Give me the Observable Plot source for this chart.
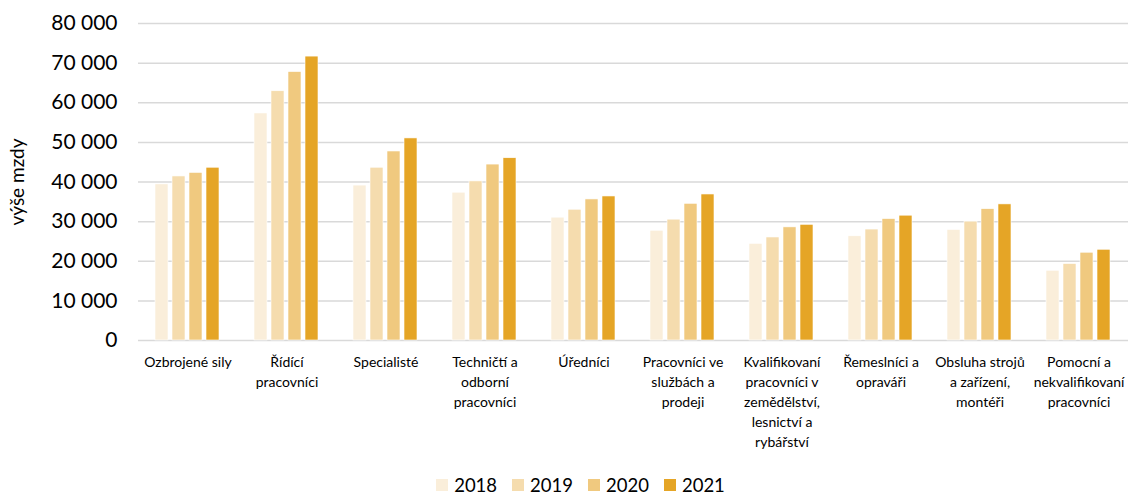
<!DOCTYPE html>
<html>
<head>
<meta charset="utf-8">
<script src="https://cdn.jsdelivr.net/npm/d3@7"></script>
<script src="https://cdn.jsdelivr.net/npm/@observablehq/plot@0.6"></script>
<style>
  html, body { margin: 0; padding: 0; background: #fff; }
  #chart { width: 1134px; height: 497px; overflow: hidden; font-family: Lato, sans-serif; }
  #legend { display: flex; justify-content: center; align-items: center; height: 46px; padding-left: 42px; box-sizing: border-box; }
  .lg-swatches-wrap { justify-content: center; margin: 0 !important; }
  .lg-swatch { margin-right: 15px !important; }
  .lg-swatch svg { margin-right: 6px !important; }
</style>
</head>
<body>
<div id="chart"></div>
<script>
const categories = [
  "Ozbrojené sily",
  "Řídící\npracovníci",
  "Specialisté",
  "Techničtí a\nodborní\npracovníci",
  "Úředníci",
  "Pracovníci ve\nslužbách a\nprodeji",
  "Kvalifikovaní\npracovníci v\nzemědělství,\nlesnictví a\nrybářství",
  "Řemeslníci a\nopraváři",
  "Obsluha strojů\na zařízení,\nmontéři",
  "Pomocní a\nnekvalifikovaní\npracovníci"
];
const years = ["2018", "2019", "2020", "2021"];
const v2018 = [39400, 57300, 39100, 37300, 31000, 27700, 24400, 26300, 27900, 17600];
const v2019 = [41400, 62900, 43600, 40150, 33000, 30500, 26000, 28000, 30000, 19300];
const v2020 = [42300, 67750, 47700, 44400, 35600, 34500, 28550, 30650, 33150, 22150];
const v2021 = [43600, 71650, 51000, 46000, 36350, 36850, 29200, 31500, 34350, 22900];
const yTicks = [0, 10000, 20000, 30000, 40000, 50000, 60000, 70000, 80000];
const colors = ["#FAEEDA", "#F5DCAE", "#F0C97F", "#E5A526"];
const yLabel = "výše mzdy";

const series = [v2018, v2019, v2020, v2021];
const data = categories.flatMap((c, i) => years.map((y, j) => ({category: c, year: y, value: series[j][i]})));
const fmt = d => d3.format(",")(d).replace(/,/g, "\u00a0");

const plot = Plot.plot({
  width: 1134,
  height: 462,
  marginLeft: 136,
  marginRight: 3,
  marginTop: 23,
  marginBottom: 122,
  style: {fontFamily: "Lato, sans-serif", fontSize: "14px", color: "#000", background: "#fff", overflow: "visible"},
  fx: {domain: categories, paddingInner: 0.28, paddingOuter: 0.14, label: null},
  x: {domain: years, paddingInner: 0.22, paddingOuter: 0.11, axis: null},
  y: {domain: [0, 80000], axis: null},
  color: {domain: years, range: colors},
  marks: [
    Plot.ruleY(yTicks, {stroke: "#d9d9d9", strokeWidth: 1.5, insetLeft: -14, insetRight: -14}),
    Plot.barY(data, {fx: "category", x: "year", y: "value", fill: "year", stroke: "#fff", strokeWidth: 0.6}),
    Plot.axisY(yTicks, {tickSize: 0, tickPadding: 35, tickFormat: fmt, fontSize: 21, label: null}),
    Plot.axisY({ticks: [], tickSize: 0, fontSize: 19, label: yLabel, labelAnchor: "center", labelOffset: 142, labelArrow: "none"}),
    Plot.axisFx({anchor: "bottom", tickSize: 0, tickPadding: 12, lineHeight: 1.43, fontSize: 14, label: null})
  ]
});

const chart = document.getElementById("chart");
chart.appendChild(plot);
const legendWrap = document.createElement("div");
legendWrap.id = "legend";
const leg = plot.legend("color", {className: "lg", swatchSize: 12, style: {fontSize: "18.5px", fontFamily: "Lato, sans-serif", color: "#000"}});
legendWrap.appendChild(leg);
chart.appendChild(legendWrap);
</script>
</body>
</html>
